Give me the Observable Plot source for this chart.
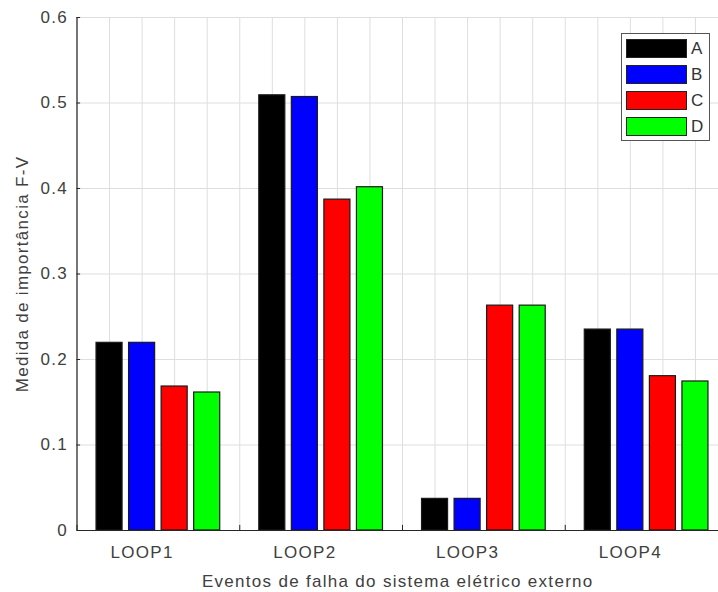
<!DOCTYPE html>
<html>
<head>
<meta charset="utf-8">
<script src="https://cdn.jsdelivr.net/npm/d3@7"></script>
<script src="https://cdn.jsdelivr.net/npm/@observablehq/plot@0.6"></script>
<style>
  html, body { margin: 0; padding: 0; background: #fff; overflow: hidden; }
  #wrap { position: relative; width: 718px; height: 592px; overflow: hidden; font-family: "Liberation Sans", Arial, sans-serif; color: #404040; }
  #wrap svg text { letter-spacing: 1.3px; }
  #legend { position: absolute; left: 621px; top: 33px; width: 89px; height: 108px; border: 1px solid #555; background: #fff; box-sizing: border-box; }
  .row { position: absolute; left: 4px; height: 19px; display: flex; align-items: center; }
  .sw { width: 61px; height: 19px; border: 1px solid #222; box-sizing: border-box; }
  .lab { margin-left: 4px; font-size: 17px; color: #333; }
</style>
</head>
<body>
<div id="wrap"></div>
<script>
const categories = ["LOOP1", "LOOP2", "LOOP3", "LOOP4"];
const series = ["A", "B", "C", "D"];
const colors = ["#000000", "#0000ff", "#ff0000", "#00ff00"];
const valuesA = [0.2195, 0.509, 0.037, 0.235];
const valuesB = [0.2195, 0.507, 0.037, 0.235];
const valuesC = [0.1684, 0.387, 0.263, 0.1805];
const valuesD = [0.1614, 0.4015, 0.263, 0.1743];
const yTicks = [0, 0.1, 0.2, 0.3, 0.4, 0.5, 0.6];
const xLabel = "Eventos de falha do sistema elétrico externo";
const yLabel = "Medida de importância F-V";

const allValues = [valuesA, valuesB, valuesC, valuesD];
// slot index: each group occupies 5 slots (4 bars + gap); grid at every slot
const data = [];
categories.forEach((c, g) => {
  series.forEach((s, k) => {
    const pos = g * 5 + k + 1;
    data.push({cat: c, series: s, value: allValues[k][g], x1: pos - 0.4, x2: pos + 0.4});
  });
});
const slots = d3.range(0, 21);
const labelPos = categories.map((c, g) => ({cat: c, pos: g * 5 + 2}));

const plot = Plot.plot({
  width: 718,
  height: 592,
  marginLeft: 76.5,
  marginRight: 0,
  marginTop: 17,
  marginBottom: 62,
  style: {fontFamily: "Liberation Sans, Arial, sans-serif", fontSize: "16px", color: "#404040", background: "white", overflow: "visible"},
  x: {domain: [0, 20], range: [76.5, 727.5], axis: null},
  y: {domain: [0, 0.6], range: [530, 17], axis: null},
  color: {domain: series, range: colors},
  marks: [
    Plot.ruleX(slots, {x: d => d, y1: 0, y2: 0.6, stroke: "#dedede", strokeWidth: 1}),
    Plot.ruleY(yTicks, {y: d => d, x1: 0, x2: 20, stroke: "#dedede", strokeWidth: 1}),
    Plot.ruleX(slots, {x: d => d, y1: 0, y2: 0.006, stroke: "#262626", strokeWidth: 1}),
    Plot.rectY(data, {x1: "x1", x2: "x2", y1: 0, y2: "value", fill: d => d.series, stroke: "#1a1a1a", strokeWidth: 1.2}),
    Plot.ruleY(yTicks, {y: d => d, x1: 0, x2: 0.11, stroke: "#262626", strokeWidth: 1}),
    Plot.ruleX([0], {y1: 0, y2: 0.6, stroke: "#262626", strokeWidth: 1.2}),
    Plot.ruleY([0], {x1: 0, x2: 20, stroke: "#262626", strokeWidth: 1.2}),
    Plot.text(yTicks, {x: 0, y: d => d, text: d => String(d), textAnchor: "end", dx: -9, fontSize: 17, fill: "#404040"}),
    Plot.text(labelPos, {x: "pos", y: 0, text: "cat", dy: 22, fontSize: 17, fill: "#404040", lineAnchor: "middle"}),
    Plot.text([xLabel], {frameAnchor: "bottom", dy: 51, text: d => d, fontSize: 17, fill: "#404040", lineAnchor: "middle"}),
    Plot.text([yLabel], {frameAnchor: "left", dx: -54, rotate: -90, textAnchor: "middle", text: d => d, fontSize: 17, fill: "#404040", lineAnchor: "middle"})
  ]
});
const wrap = document.getElementById("wrap");
wrap.appendChild(plot);

const legend = document.createElement("div");
legend.id = "legend";
series.forEach((s, k) => {
  const row = document.createElement("div");
  row.className = "row";
  row.style.top = (5 + k * 26) + "px";
  const sw = document.createElement("div");
  sw.className = "sw";
  sw.style.background = colors[k];
  const lab = document.createElement("span");
  lab.className = "lab";
  lab.textContent = s;
  row.appendChild(sw);
  row.appendChild(lab);
  legend.appendChild(row);
});
wrap.appendChild(legend);
</script>
</body>
</html>
